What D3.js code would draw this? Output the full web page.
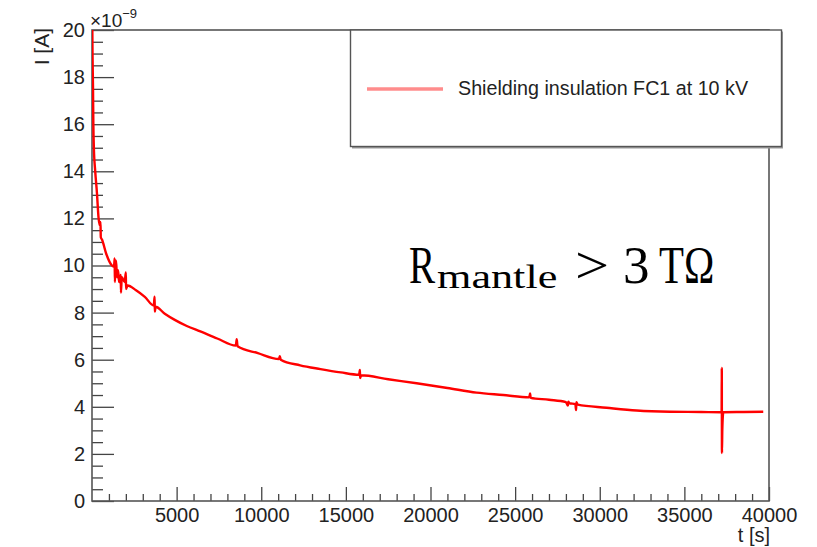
<!DOCTYPE html>
<html>
<head>
<meta charset="utf-8">
<script src="https://cdn.jsdelivr.net/npm/d3@7"></script>
<style>
  html, body { margin: 0; padding: 0; background: #fff; }
  svg { display: block; }
  .tick text { font-family: "Liberation Sans", Arial, sans-serif; }
</style>
</head>
<body>
<div id="chart"></div>
<script>
// time [s] and current [1e-9 A] (spikes included as pairs)
var times = [0, 30, 60, 80, 110, 190, 290, 390, 470, 500, 520, 590, 840, 1180,
  1300, 1340, 1350, 1420, 1480, 1540, 1600, 1700, 1710, 1760, 1930, 2000, 2010, 2100,
  2600, 3120, 3650, 3700, 3710, 3760, 4300, 4890, 5600, 6400, 7400, 8500, 8550, 8600,
  9800, 11050, 11100, 11150, 12300, 13500, 14700, 15780, 15830, 15840, 15900, 17500, 19180,
  21000, 22720, 24300, 25840, 25880, 25920, 27000, 28000, 28120, 28140, 28200, 28560, 28600,
  28620, 28700, 30400, 32180, 34150, 36000, 37150, 37200, 37210, 37220, 37240, 37300, 38500, 39660]
var current = [22, 19.0, 17.5, 16.0, 15.0, 14.0, 13.1, 12.0, 11.7, 11.85, 11.2, 11.1, 10.5, 10.0,
  9.95, 10.3, 9.3, 10.2, 9.5, 9.8, 9.3, 9.6, 8.85, 9.5, 9.3, 9.7, 9.0, 9.15,
  8.95, 8.67, 8.3, 8.67, 8.04, 8.25, 7.95, 7.69, 7.43, 7.2, 6.9, 6.6, 6.87, 6.57,
  6.28, 6.03, 6.15, 6.0, 5.76, 5.6, 5.46, 5.36, 5.56, 5.22, 5.34, 5.17, 5.00,
  4.8, 4.60, 4.5, 4.40, 4.57, 4.38, 4.3, 4.20, 4.05, 4.22, 4.16, 4.11, 3.86,
  4.20, 4.09, 3.96, 3.84, 3.79, 3.78, 3.77, 3.77, 5.65, 2.04, 3.0, 3.77, 3.78, 3.79]

var xTicks = [5000, 10000, 15000, 20000, 25000, 30000, 35000, 40000]
var yTicks = [0, 2, 4, 6, 8, 10, 12, 14, 16, 18, 20]
var legendLabel = 'Shielding insulation FC1 at 10 kV'

var W = 817, H = 547
var frameL = 92, frameR = 769, frameT = 30, frameB = 501
var font = '"Liberation Sans", Arial, sans-serif'
var ink = '#222'

var svg = d3.select('#chart').append('svg')
  .attr('width', W).attr('height', H)

var x = d3.scaleLinear().domain([0, 40000]).range([frameL, frameR])
var y = d3.scaleLinear().domain([0, 20]).range([frameB, frameT])

svg.append('clipPath').attr('id', 'frame')
  .append('rect').attr('x', frameL).attr('y', frameT)
  .attr('width', frameR - frameL).attr('height', frameB - frameT)

// minor ticks
var xMinor = d3.range(1000, 40000, 1000).filter(function(d){ return d % 5000 !== 0 })
var yMinor = d3.range(0.5, 20, 0.5).filter(function(d){ return d % 2 !== 0 })

svg.append('g').attr('transform', 'translate(0,' + frameB + ')')
  .call(d3.axisBottom(x).tickValues(xMinor).tickSize(-7).tickFormat(''))
svg.append('g').attr('transform', 'translate(' + frameL + ',0)')
  .call(d3.axisLeft(y).tickValues(yMinor).tickSize(-11).tickFormat(''))

var xAxis = svg.append('g').attr('transform', 'translate(0,' + frameB + ')')
  .call(d3.axisBottom(x).tickValues(xTicks).tickSize(-14).tickPadding(7).tickFormat(d3.format('d')))
var yAxis = svg.append('g').attr('transform', 'translate(' + frameL + ',0)')
  .call(d3.axisLeft(y).tickValues(yTicks).tickSize(-22).tickPadding(7).tickFormat(d3.format('d')))

svg.selectAll('.domain').remove()
svg.selectAll('.tick line').attr('stroke', '#444').attr('stroke-width', 1.3)
svg.selectAll('.tick text').attr('font-size', 20).attr('fill', ink)
xAxis.selectAll('.tick text').attr('dy', '0.72em')

// frame
svg.append('rect').attr('x', frameL).attr('y', frameT)
  .attr('width', frameR - frameL).attr('height', frameB - frameT)
  .attr('fill', 'none').attr('stroke', '#555').attr('stroke-width', 1.6)

// exponent
var ex = svg.append('text').attr('x', 90).attr('y', 27)
  .attr('font-family', font).attr('font-size', 19).attr('fill', ink)
ex.append('tspan').text('\u00d710')
ex.append('tspan').attr('font-size', 13).attr('dy', -9).text('\u22129')

// axis titles
svg.append('text').attr('transform', 'translate(49,28) rotate(-90)')
  .attr('text-anchor', 'end').attr('font-family', font).attr('font-size', 21)
  .attr('fill', ink).text('I [A]')
svg.append('text').attr('x', 770).attr('y', 542)
  .attr('text-anchor', 'end').attr('font-family', font).attr('font-size', 20)
  .attr('fill', ink).text('t [s]')

// curve
var line = d3.line()
  .curve(d3.curveMonotoneX)
  .x(function(d){ return x(d[0]) })
  .y(function(d){ return y(d[1]) })
svg.append('path')
  .datum(times.map(function(t, i){ return [t, current[i]] }))
  .attr('clip-path', 'url(#frame)')
  .attr('d', line)
  .attr('fill', 'none').attr('stroke', '#ff0000')
  .attr('stroke-width', 2.4).attr('stroke-linejoin', 'round')

// legend
var lg = svg.append('g')
lg.append('rect').attr('x', 352).attr('y', 31.5).attr('width', 431).attr('height', 117)
  .attr('fill', '#999')
lg.append('rect').attr('x', 350.5).attr('y', 30).attr('width', 431).attr('height', 116.5)
  .attr('fill', '#fff').attr('stroke', '#555').attr('stroke-width', 1.4)
lg.append('line').attr('x1', 367).attr('x2', 443).attr('y1', 89).attr('y2', 89)
  .attr('stroke', '#ff0000').attr('stroke-opacity', 0.45).attr('stroke-width', 3.5)
lg.append('text').attr('x', 458).attr('y', 95)
  .attr('font-family', font).attr('font-size', 19.7).attr('fill', ink)
  .text(legendLabel)

// annotation, pieces squeezed/stretched to mimic the math font
var serif = '"Liberation Serif", "Times New Roman", serif'
var ann = svg.append('g').attr('font-family', serif).attr('fill', '#000')
function annPiece(str, px, py, size, sx){
  ann.append('text')
    .attr('transform', 'translate(' + px + ',' + py + ') scale(' + sx + ',1)')
    .attr('font-size', size).text(str)
}
annPiece('R', 409, 283, 53, 0.74)
annPiece('mantle', 437, 288, 33, 1.34)
annPiece('>', 575, 283, 53, 1.14)
annPiece('3', 623, 283, 53, 1)
annPiece('T\u03a9', 659, 283, 53, 0.77)
</script>
</body>
</html>
